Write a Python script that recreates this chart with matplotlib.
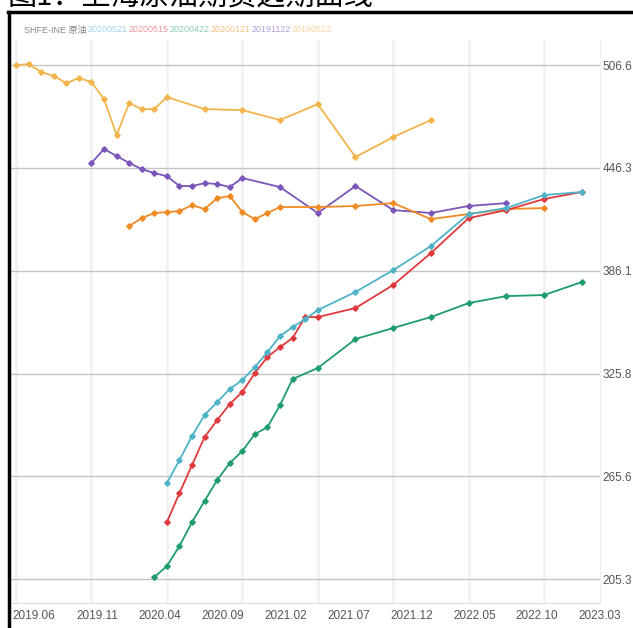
import matplotlib
matplotlib.use('Agg')
import matplotlib.pyplot as plt
from matplotlib import font_manager
import numpy as np

# contract months counted from 2019.06 and settlement prices (yuan/barrel)
m_190522 = [0, 1, 2, 3, 4, 5, 6, 7, 8, 9, 10, 11, 12, 15, 18, 21, 24, 27, 30, 33]
v_190522 = [506.6, 507.2, 502.5, 500.2, 496.0, 499.0, 496.6, 486.7, 465.6, 484.3,
            480.8, 480.8, 487.8, 480.8, 480.2, 474.4, 483.7, 452.7, 464.4, 474.4]

m_191122 = [6, 7, 8, 9, 10, 11, 12, 13, 14, 15, 16, 17, 18, 21, 24, 27, 30, 33, 36, 39]
v_191122 = [449.2, 457.4, 453.3, 449.2, 445.6, 443.3, 441.5, 435.7, 435.7, 437.4,
            436.9, 435.1, 440.4, 435.1, 419.9, 435.7, 421.6, 419.9, 424.0, 425.7]

m_200121 = [9, 10, 11, 12, 13, 14, 15, 16, 17, 18, 19, 20, 21, 24, 27, 30, 33, 36, 39, 42]
v_200121 = [412.2, 416.9, 419.9, 420.4, 421.0, 424.5, 422.2, 428.6, 429.8, 420.4,
            416.3, 419.9, 423.4, 423.4, 424.0, 425.7, 416.3, 419.3, 422.2, 422.8]

m_200422 = [11, 12, 13, 14, 15, 16, 17, 18, 19, 20, 21, 22, 24, 27, 30, 33, 36, 39, 42, 45]
v_200422 = [206.5, 212.9, 224.7, 238.7, 251.1, 263.4, 273.3, 280.4, 290.3, 294.4,
            307.3, 322.6, 329.0, 346.0, 352.5, 358.9, 367.1, 371.2, 371.8, 379.4]

m_200515 = [12, 13, 14, 15, 16, 17, 18, 19, 20, 21, 22, 23, 24, 27, 30, 33, 36, 39, 42, 45]
v_200515 = [238.7, 255.7, 272.2, 288.6, 298.5, 307.9, 315.0, 326.1, 335.5, 341.3,
            346.6, 358.9, 358.9, 364.2, 377.7, 396.4, 416.9, 421.6, 428.1, 432.2]

m_200521 = [12, 13, 14, 15, 16, 17, 18, 19, 20, 21, 22, 23, 24, 27, 30, 33, 36, 39, 42, 45]
v_200521 = [261.6, 275.1, 289.2, 301.5, 309.1, 316.7, 322.0, 329.6, 338.4, 347.8,
            353.0, 357.7, 363.0, 373.6, 386.4, 400.5, 419.3, 422.8, 430.4, 432.2]

y_ticks = [205.3, 265.6, 325.8, 386.1, 446.3, 506.6]
x_labels = ['2019.06', '2019.11', '2020.04', '2020.09', '2021.02', '2021.07',
            '2021.12', '2022.05', '2022.10', '2023.03']
x_label_months = [0, 5, 10, 15, 20, 25, 30, 35, 40, 45]

series = [
    ('20200521', m_200521, v_200521, '#4fb3c8', '#9fd4e2'),
    ('20200515', m_200515, v_200515, '#e0393e', '#ee9a9c'),
    ('20200422', m_200422, v_200422, '#1f9c6c', '#8ccfb4'),
    ('20200121', m_200121, v_200121, '#f08a24', '#f6c08a'),
    ('20191122', m_191122, v_191122, '#7b55b8', '#b3a0d8'),
    ('20190522', m_190522, v_190522, '#f2b44c', '#f7d79e'),
]

names = {f.name for f in font_manager.fontManager.ttflist}
narrow = 'Liberation Sans Narrow' if 'Liberation Sans Narrow' in names else 'Liberation Sans'
plt.rcParams['font.family'] = [narrow, 'Noto Sans CJK SC', 'DejaVu Sans']

W, H = 633, 628
fig = plt.figure(figsize=(W / 100, H / 100), dpi=100)
ax = fig.add_axes([10 / W, (H - 603) / H, 590 / W, 563 / H])

# vertical faint grid every 6 months
for m in range(0, 48, 6):
    ax.axvline(m, color='#f2f2f2', lw=2, zorder=0)
for v in y_ticks:
    ax.axhline(v, color='#c4c4c4', lw=1, zorder=1)

for name, ms, vs, c, _ in series[::-1]:
    ax.plot(ms, vs, color=c, lw=1.3, marker='D', ms=2.8, zorder=3)

ax.set_xlim(-0.48, 46.35)
ax.set_ylim(191.3, 521.3)
ax.yaxis.tick_right()
ax.set_yticks(y_ticks)
ax.set_yticklabels([f'{v:.1f}' for v in y_ticks], fontsize=8.5, color='#555555')
ax.set_xticks([m + 1.45 for m in x_label_months])
ax.set_xticklabels(x_labels, fontsize=8.5, color='#555555')
ax.tick_params(length=0)
ax.tick_params(axis='x', pad=5)
ax.tick_params(axis='y', pad=2)
for s in ['top', 'left']:
    ax.spines[s].set_visible(False)
ax.spines['bottom'].set_color('#dddddd')
ax.spines['right'].set_color('#eeeeee')

# outer frame
fig.add_artist(plt.Line2D([9 / W, 9 / W], [0, (H - 12) / H], color='black', lw=2.5))
fig.add_artist(plt.Line2D([8 / W, 1], [(H - 12) / H, (H - 12) / H], color='black', lw=2.5))

# title (top cut off as in the source)
fig.text(8 / W, (H - 6) / H, '图1：上海原油期货远期曲线', fontsize=21,
         family=['Noto Sans CJK SC'], va='baseline', color='black')

# legend strip, pieces placed one after another
renderer = fig.canvas.get_renderer()
y_leg = (H - 30) / H
t = fig.text(24 / W, y_leg, 'SHFE-INE 原油', fontsize=6.5, color='#888888', va='center',
             family=[narrow, 'Noto Sans CJK SC'])
x0 = t.get_window_extent(renderer).x1 + 1
for name, ms, vs, c, light in series:
    t = fig.text(x0 / W, y_leg, name, fontsize=6.5, color=light, va='center')
    x0 = t.get_window_extent(renderer).x1 + 1

fig.savefig('out.png', dpi=100)
